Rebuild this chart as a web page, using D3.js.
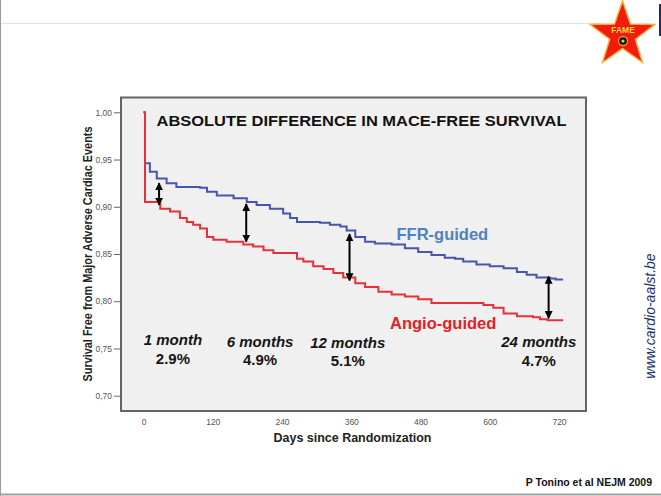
<!DOCTYPE html>
<html>
<head>
<meta charset="utf-8">
<script src="https://cdn.jsdelivr.net/npm/d3@7"></script>
<style>
  html, body { margin: 0; padding: 0; background: #ffffff; }
  svg { display: block; font-family: Arial, "Liberation Sans", sans-serif; }
</style>
</head>
<body>
<svg id="chart" width="661" height="496"></svg>
<script>
// ---------------- data ----------------
const ffrDays = [0, 2.6, 11, 23, 40, 57, 98, 110, 127, 156, 179, 196, 219, 242, 254, 266, 306, 323, 341, 352, 367, 384, 401, 430, 453, 476, 499, 522, 540, 554, 577, 600, 624, 647, 664, 681, 704, 714, 727];
const ffrSurv = [1.000, 0.946, 0.937, 0.930, 0.925, 0.921, 0.920, 0.916, 0.912, 0.909, 0.905, 0.902, 0.898, 0.893, 0.888, 0.884, 0.883, 0.881, 0.879, 0.875, 0.868, 0.863, 0.861, 0.860, 0.856, 0.852, 0.849, 0.846, 0.845, 0.842, 0.839, 0.837, 0.835, 0.831, 0.828, 0.825, 0.824, 0.823, 0.823];

const angioDays = [0, 2.6, 29, 46, 63, 75, 86, 98, 110, 121, 144, 173, 190, 208, 225, 266, 277, 294, 312, 329, 346, 367, 384, 407, 430, 453, 476, 499, 589, 606, 624, 647, 675, 687, 700, 727];
const angioSurv = [1.000, 0.905, 0.898, 0.895, 0.888, 0.884, 0.881, 0.877, 0.868, 0.865, 0.863, 0.860, 0.858, 0.854, 0.851, 0.845, 0.842, 0.837, 0.834, 0.830, 0.825, 0.819, 0.815, 0.810, 0.807, 0.805, 0.802, 0.798, 0.796, 0.793, 0.787, 0.784, 0.783, 0.781, 0.780, 0.780];

const seriesNames = ["FFR-guided", "Angio-guided"];

const arrowDays = [27, 178, 357, 702];
const arrowHigh = [0.925, 0.903, 0.871, 0.826];
const arrowLow  = [0.902, 0.863, 0.822, 0.782];

const periodLabels = ["1 month", "6 months", "12 months", "24 months"];
const periodDiffs  = ["2.9%", "4.9%", "5.1%", "4.7%"];
const periodDays   = [51, 202, 354, 685];

const xTicks = [0, 120, 240, 360, 480, 600, 720];
const yTicks = [0.70, 0.75, 0.80, 0.85, 0.90, 0.95, 1.00];

const titleText = "ABSOLUTE DIFFERENCE IN MACE-FREE SURVIVAL";
const xTitle = "Days since Randomization";
const yTitle = "Survival Free from Major Adverse Cardiac Events";
const sourceText = "P Tonino et al NEJM 2009";
const siteText = "www.cardio-aalst.be";

// ---------------- layout ----------------
const svg = d3.select("#chart");
const frame = { left: 121, top: 97.5, right: 586, bottom: 411 };

const x = d3.scaleLinear().domain([0, 720]).range([143.5, 559]);
const y = d3.scaleLinear().domain([0.70, 1.00]).range([395.7, 112.3]);

const blue = "#4457ab";
const red = "#e8303a";

// page decorations
svg.append("rect").attr("x", 0).attr("y", 0).attr("width", 661).attr("height", 496).attr("fill", "#ffffff");
svg.append("line").attr("x1", 0).attr("x2", 600).attr("y1", 23.5).attr("y2", 23.5)
  .attr("stroke", "#e2e2e2").attr("stroke-width", 1);
svg.append("line").attr("x1", 0.5).attr("x2", 0.5).attr("y1", 0).attr("y2", 496)
  .attr("stroke", "#9a9a9a").attr("stroke-width", 1);
svg.append("line").attr("x1", 0).attr("x2", 661).attr("y1", 494.5).attr("y2", 494.5)
  .attr("stroke", "#a0a0a0").attr("stroke-width", 2);
svg.append("rect").attr("x", 659).attr("y", 4).attr("width", 2).attr("height", 32).attr("fill", "#1c2a6b");

// star logo
(function () {
  const cx = 622.5, cy = 35, R = 34, r = 13.5;
  const pts = [];
  for (let i = 0; i < 10; i++) {
    const a = -Math.PI / 2 + i * Math.PI / 5;
    const rad = i % 2 === 0 ? R : r;
    pts.push([cx + rad * Math.cos(a), cy + rad * Math.sin(a)]);
  }
  svg.append("polygon").attr("points", pts.map(p => p.join(",")).join(" "))
    .attr("fill", "#f21b0c").attr("stroke", "#f6b13a").attr("stroke-width", 1.5).attr("stroke-linejoin", "miter");
  svg.append("text").attr("x", cx + 0.5).attr("y", 32.5).attr("text-anchor", "middle")
    .attr("font-size", 8.5).attr("font-weight", "bold").attr("fill", "#ffd24a").text("FAME");
  svg.append("circle").attr("cx", cx + 0.5).attr("cy", 41).attr("r", 4.5).attr("fill", "#111").attr("stroke", "#f39a1e").attr("stroke-width", 1.3);
  svg.append("circle").attr("cx", cx + 0.5).attr("cy", 41).attr("r", 1.6).attr("fill", "#d8d060");
})();

// plot frame
svg.append("rect")
  .attr("x", frame.left).attr("y", frame.top)
  .attr("width", frame.right - frame.left).attr("height", frame.bottom - frame.top)
  .attr("fill", "#f0f0f0").attr("stroke", "#646464").attr("stroke-width", 2);

// axes
const commaFmt = d => d3.format(".2f")(d).replace(".", ",");
const yAxis = svg.append("g").attr("transform", `translate(${frame.left - 1},0)`)
  .call(d3.axisLeft(y).tickValues(yTicks).tickSize(6).tickPadding(2).tickFormat(commaFmt));
yAxis.select(".domain").remove();
yAxis.selectAll("line").attr("stroke", "#666");
yAxis.selectAll("text").attr("font-size", 8.5).attr("fill", "#555").attr("font-family", "Arial, 'Liberation Sans', sans-serif");

const xAxis = svg.append("g").attr("transform", `translate(0,${frame.bottom})`)
  .call(d3.axisBottom(x).tickValues(xTicks).tickSize(0).tickPadding(7.5).tickFormat(d3.format("d")));
xAxis.select(".domain").remove();
xAxis.selectAll("text").attr("font-size", 8.5).attr("fill", "#555").attr("font-family", "Arial, 'Liberation Sans', sans-serif");

// axis titles
svg.append("text").attr("x", 352.5).attr("y", 442).attr("text-anchor", "middle")
  .attr("font-size", 12).attr("font-weight", "bold").attr("fill", "#222")
  .attr("textLength", 158).attr("lengthAdjust", "spacingAndGlyphs").text(xTitle);
svg.append("text").attr("transform", "translate(91.5,254) rotate(-90)").attr("text-anchor", "middle")
  .attr("font-size", 12).attr("font-weight", "bold").attr("fill", "#222")
  .attr("textLength", 255).attr("lengthAdjust", "spacingAndGlyphs").text(yTitle);

// chart title
svg.append("text").attr("x", 156.5).attr("y", 125.5)
  .attr("font-size", 15.5).attr("font-weight", "bold").attr("fill", "#111")
  .attr("textLength", 410).attr("lengthAdjust", "spacingAndGlyphs").text(titleText);

// survival curves
const line = d3.line().x(d => x(d[0])).y(d => y(d[1])).curve(d3.curveStepAfter);
const ffrData = ffrDays.map((d, i) => [d, ffrSurv[i]]);
const angioData = angioDays.map((d, i) => [d, angioSurv[i]]);

svg.append("path").datum(ffrData).attr("d", line)
  .attr("fill", "none").attr("stroke", blue).attr("stroke-width", 2);
svg.append("path").datum(angioData).attr("d", line)
  .attr("fill", "none").attr("stroke", red).attr("stroke-width", 2);

// arrows
const defs = svg.append("defs");
defs.append("marker").attr("id", "ah").attr("viewBox", "0 0 10 10")
  .attr("refX", 9).attr("refY", 5).attr("markerUnits", "userSpaceOnUse")
  .attr("markerWidth", 8).attr("markerHeight", 8).attr("orient", "auto-start-reverse")
  .append("path").attr("d", "M0,0 L10,5 L0,10 z").attr("fill", "#000");

svg.selectAll(".arrow").data(arrowDays).enter().append("line")
  .attr("class", "arrow")
  .attr("x1", d => x(d)).attr("x2", d => x(d))
  .attr("y1", (d, i) => y(arrowHigh[i])).attr("y2", (d, i) => y(arrowLow[i]))
  .attr("stroke", "#000").attr("stroke-width", 2)
  .attr("marker-start", "url(#ah)").attr("marker-end", "url(#ah)");

// series labels
svg.append("text").attr("x", 396.5).attr("y", 240).attr("font-size", 16.5).attr("font-weight", "bold")
  .attr("fill", "#4f80c6").text(seriesNames[0]);
svg.append("text").attr("x", 390).attr("y", 328.5).attr("font-size", 16.5).attr("font-weight", "bold")
  .attr("fill", "#e3202a").text(seriesNames[1]);

// period annotations
const labBase = [345, 346.5, 348, 347.3];
const pctBase = [363.5, 365, 366, 366];
svg.selectAll(".plab").data(periodLabels).enter().append("text")
  .attr("class", "plab")
  .attr("x", (d, i) => x(periodDays[i])).attr("y", (d, i) => labBase[i])
  .attr("text-anchor", "middle").attr("font-size", 15).attr("font-weight", "bold")
  .attr("font-style", "italic").attr("fill", "#151515").text(d => d);
svg.selectAll(".pdiff").data(periodDiffs).enter().append("text")
  .attr("class", "pdiff")
  .attr("x", (d, i) => x(periodDays[i])).attr("y", (d, i) => pctBase[i])
  .attr("text-anchor", "middle").attr("font-size", 15).attr("font-weight", "bold")
  .attr("fill", "#151515").text(d => d);

// side URL and source
svg.append("text").attr("transform", "translate(655,316) rotate(-90)").attr("text-anchor", "middle")
  .attr("font-size", 14).attr("font-style", "italic").attr("fill", "#23306e").text(siteText);
svg.append("text").attr("x", 652).attr("y", 486).attr("text-anchor", "end")
  .attr("font-size", 10.5).attr("font-weight", "bold").attr("fill", "#111").text(sourceText);
</script>
</body>
</html>
